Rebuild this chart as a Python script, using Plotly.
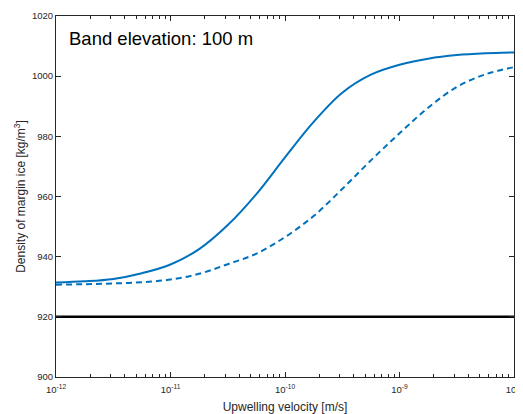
import plotly.graph_objects as go

# log10 of upwelling velocity [m/s] and density of margin ice [kg/m^3]
solid_log_velocity = [-12.0, -11.75, -11.5, -11.25, -11.0, -10.75, -10.5, -10.25, -10.0,
                      -9.75, -9.5, -9.25, -9.0, -8.75, -8.5, -8.25, -8.0]
solid_density = [931.4, 931.8, 932.6, 934.5, 937.4, 942.5, 950.5, 960.8, 973.0,
                 984.8, 994.5, 1000.5, 1003.8, 1005.8, 1007.0, 1007.6, 1007.9]

dashed_log_velocity = [-12.0, -11.75, -11.5, -11.25, -11.0, -10.75, -10.5, -10.25, -10.0,
                       -9.75, -9.5, -9.25, -9.0, -8.75, -8.5, -8.25, -8.0]
dashed_density = [930.7, 930.85, 931.1, 931.5, 932.4, 934.3, 937.5, 941.0, 946.5,
                  953.5, 962.5, 972.0, 981.0, 989.5, 996.4, 1000.6, 1003.0]

reference_velocity = [1e-12, 1e-8]
reference_density = [920, 920]

x_tick_exponents = [-12, -11, -10, -9, -8]
y_ticks = [900, 920, 940, 960, 980, 1000, 1020]
annotation_text = "Band elevation: 100 m"

blue = "#0072BD"
axis_color = "#262626"
font_family = "Liberation Sans, Arial, Helvetica, sans-serif"

fig = go.Figure()
fig.add_trace(go.Scatter(x=[10 ** v for v in solid_log_velocity], y=solid_density, mode="lines",
                         line=dict(color=blue, width=2, shape="spline", smoothing=1.0),
                         showlegend=False))
fig.add_trace(go.Scatter(x=[10 ** v for v in dashed_log_velocity], y=dashed_density, mode="lines",
                         line=dict(color=blue, width=2, dash="6px,4px", shape="spline", smoothing=1.0),
                         showlegend=False))
fig.add_trace(go.Scatter(x=reference_velocity, y=reference_density, mode="lines",
                         line=dict(color="black", width=2.5), showlegend=False))

minor_vals = [m * 10.0 ** e for e in x_tick_exponents[:-1] for m in range(2, 10)]

# the page body has an 8px default margin, so the figure is sized to fit the window
fig.update_layout(
    width=515, height=406,
    margin=dict(l=48, r=9, t=8, b=37),
    paper_bgcolor="white", plot_bgcolor="white",
    font=dict(family=font_family, color=axis_color, size=9.5),
    xaxis=dict(
        type="log", range=[-12, -8], automargin=False,
        tickmode="array",
        tickvals=[10.0 ** e for e in x_tick_exponents],
        ticktext=[f"10<sup>{e}</sup>" for e in x_tick_exponents],
        ticks="inside", ticklen=5, tickwidth=0.8, tickcolor=axis_color,
        ticklabelstandoff=4,
        minor=dict(tickmode="array", tickvals=minor_vals, ticks="inside", ticklen=3,
                   tickwidth=0.8, tickcolor=axis_color, showgrid=False),
        showline=True, linecolor=axis_color, linewidth=1, mirror="ticks",
        showgrid=False, zeroline=False,
        title=dict(text="Upwelling velocity [m/s]", font=dict(size=12), standoff=11),
        tickfont=dict(size=9.5),
    ),
    yaxis=dict(
        range=[900, 1020], automargin=False,
        tickmode="array", tickvals=y_ticks,
        ticks="inside", ticklen=5, tickwidth=0.8, tickcolor=axis_color,
        showline=True, linecolor=axis_color, linewidth=1, mirror="ticks",
        showgrid=False, zeroline=False,
        title=dict(text="Density of margin ice [kg/m<sup>3</sup>]", font=dict(size=12), standoff=3),
        tickfont=dict(size=9.5),
    ),
    annotations=[dict(text=annotation_text, xref="x domain", yref="y domain", x=0.024, y=0.939,
                      xanchor="left", yanchor="middle", showarrow=False,
                      font=dict(size=18.5, color="black", family=font_family))],
)

fig.write_html("out.html")
